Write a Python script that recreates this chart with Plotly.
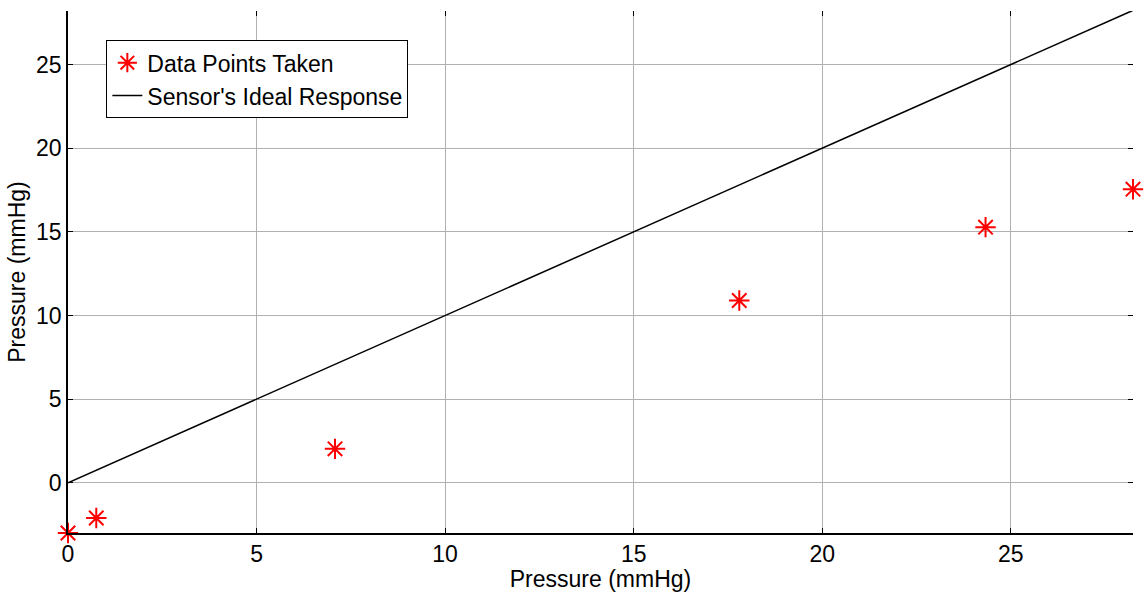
import plotly.graph_objects as go

# Data
data_x = [0, 0.75, 7.08, 17.8, 24.33, 28.24]
data_y = [-3, -2.1, 2.03, 10.9, 15.28, 17.55]
ideal_x = [0, 28.24]
ideal_y = [0, 28.24]
ticks = [0, 5, 10, 15, 20, 25]

FONT = "Liberation Sans, Arial"
FS = 23

fig = go.Figure()
fig.add_trace(go.Scatter(
    x=ideal_x, y=ideal_y, mode="lines", name="Sensor's Ideal Response",
    line=dict(color="black", width=1.5), showlegend=True))
fig.add_trace(go.Scatter(
    x=data_x, y=data_y, mode="markers", name="Data Points Taken",
    marker=dict(symbol="asterisk-open", size=17, color="red",
                line=dict(color="red", width=2)),
    cliponaxis=False))

axis_common = dict(
    showgrid=True, gridcolor="#b0b0b0", gridwidth=1,
    zeroline=False, showline=True, linecolor="black", linewidth=1.5,
    ticks="inside", ticklen=5, tickcolor="black", mirror=False,
    tickvals=ticks, tickfont=dict(family=FONT, size=FS, color="black"),
    automargin=False,
)

fig.update_layout(
    width=1147, height=592,
    margin=dict(l=68, r=14, t=11, b=59),
    paper_bgcolor="white", plot_bgcolor="white",
    font=dict(family=FONT, color="black"),
    xaxis=dict(range=[0, 28.24], title=dict(text="Pressure (mmHg)", font=dict(size=FS), standoff=0), **axis_common),
    yaxis=dict(range=[-3, 28.2], title=dict(text="Pressure (mmHg)", font=dict(size=FS), standoff=4), **axis_common),
    # mirrored tick marks (top / right) without the box line
    xaxis2=dict(overlaying="x", matches="x", side="top", showline=False, showgrid=False,
                zeroline=False, ticks="inside", ticklen=5, tickcolor="black",
                tickvals=ticks, showticklabels=False, range=[0, 28.24]),
    yaxis2=dict(overlaying="y", matches="y", side="right", showline=False, showgrid=False,
                zeroline=False, ticks="inside", ticklen=5, tickcolor="black",
                tickvals=ticks, showticklabels=False, range=[-3, 28.2]),
    legend=dict(x=0.036, y=0.944, xanchor="left", yanchor="top",
                bgcolor="white", bordercolor="black", borderwidth=1,
                font=dict(size=FS, color="black"), traceorder="reversed",
                itemsizing="trace", tracegroupgap=0),
)
# invisible trace to activate the mirrored axes
fig.add_trace(go.Scatter(x=[None], y=[None], xaxis="x2", yaxis="y2", showlegend=False, hoverinfo="skip"))

fig.write_html("out.html")
